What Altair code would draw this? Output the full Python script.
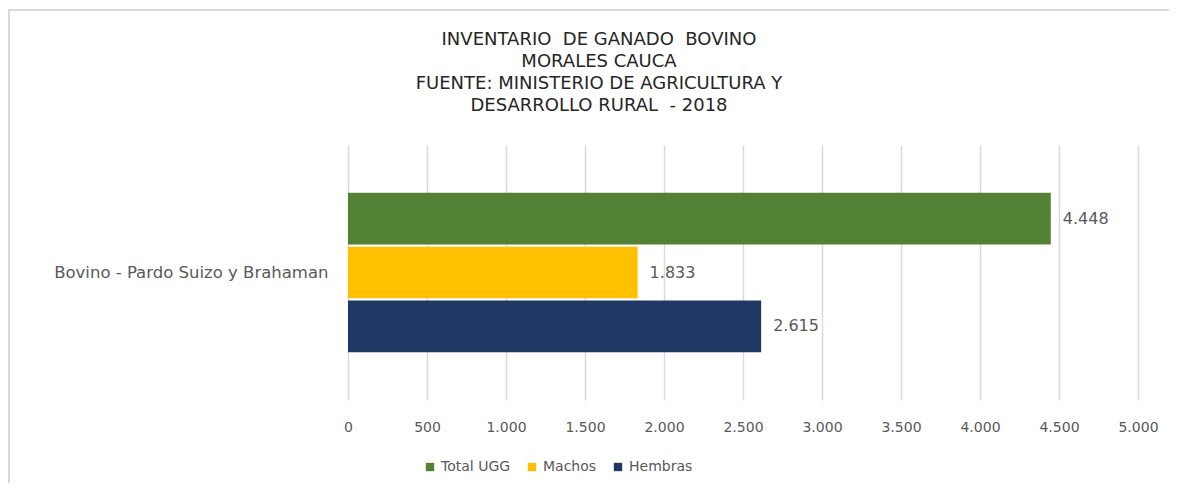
import altair as alt
import pandas as pd

categories = ["Bovino - Pardo Suizo y Brahaman"]
series = ["Total UGG", "Machos", "Hembras"]
values = [4448, 1833, 2615]
colors = ["#548235", "#FFC000", "#1F3864"]
title_lines = [
    "INVENTARIO \u00a0DE GANADO \u00a0BOVINO",
    "MORALES CAUCA",
    "FUENTE: MINISTERIO DE AGRICULTURA Y",
    "DESARROLLO RURAL \u00a0- 2018",
]
x_ticks = [0, 500, 1000, 1500, 2000, 2500, 3000, 3500, 4000, 4500, 5000]

df = pd.DataFrame({
    "cat": categories * len(series),
    "serie": series,
    "valor": values,
})

FONT = "DejaVu Sans"
GRAY = "#595959"

base = alt.Chart(df).encode(
    y=alt.Y("cat:N", title=None,
            scale=alt.Scale(paddingInner=0, paddingOuter=0.3),
            axis=alt.Axis(domain=False, ticks=False, labelPadding=20,
                          labelFont=FONT, labelFontSize=16.5, labelColor=GRAY,
                          labelLimit=400)),
    yOffset=alt.YOffset("serie:N", sort=series,
                        scale=alt.Scale(paddingInner=0.04, paddingOuter=0)),
)

bars = base.mark_bar().encode(
    x=alt.X("valor:Q", title=None,
            scale=alt.Scale(domain=[0, 5000]),
            axis=alt.Axis(values=x_ticks, domain=False, ticks=False,
                          grid=True, gridColor="#D9D9D9", gridWidth=1.5,
                          labelFlush=False,
                          labelExpr="replace(datum.label, ',', '.')",
                          labelFont=FONT, labelFontSize=14, labelColor=GRAY,
                          labelPadding=20)),
    color=alt.Color("serie:N", sort=series,
                    scale=alt.Scale(domain=series, range=colors),
                    legend=alt.Legend(title=None, orient="none",
                                      direction="horizontal",
                                      legendX=75, legendY=315,
                                      symbolType="square", symbolSize=70,
                                      symbolStrokeWidth=0,
                                      labelFont=FONT, labelFontSize=14,
                                      labelColor=GRAY, columnPadding=14,
                                      labelOffset=4)),
)

labels = base.mark_text(align="left", baseline="middle", dx=12,
                        font=FONT, fontSize=16, color=GRAY).encode(
    x=alt.X("valor:Q"),
    text=alt.Text("lbl:N"),
).transform_calculate(
    lbl="replace(format(datum.valor, ','), ',', '.')"
)

# chart frame (left and top border of the original picture)
frame_left = alt.Chart(df).mark_rule(color="#D9D9D9", strokeWidth=2).encode(
    x=alt.value(-339), y=alt.value(-135), y2=alt.value(346)
)
frame_top = alt.Chart(df).mark_rule(color="#D9D9D9", strokeWidth=2).encode(
    x=alt.value(-340), x2=alt.value(840), y=alt.value(-135)
)

chart = alt.layer(frame_left, frame_top, bars, labels).properties(
    width=790,
    height=255,
    autosize=alt.AutoSizeParams(type="none"),
    padding={"left": 340, "top": 137, "right": 31, "bottom": 83},
    title=alt.TitleParams(
        text=title_lines, anchor="middle", frame="group", dx=-144,
        font="DejaVu Sans", fontSize=18, fontWeight="normal",
        color="#262626", lineHeight=22, offset=-106,
    ),
).configure_view(stroke=None)

chart.save("out.html", embed_options={"renderer": "svg", "actions": False})
